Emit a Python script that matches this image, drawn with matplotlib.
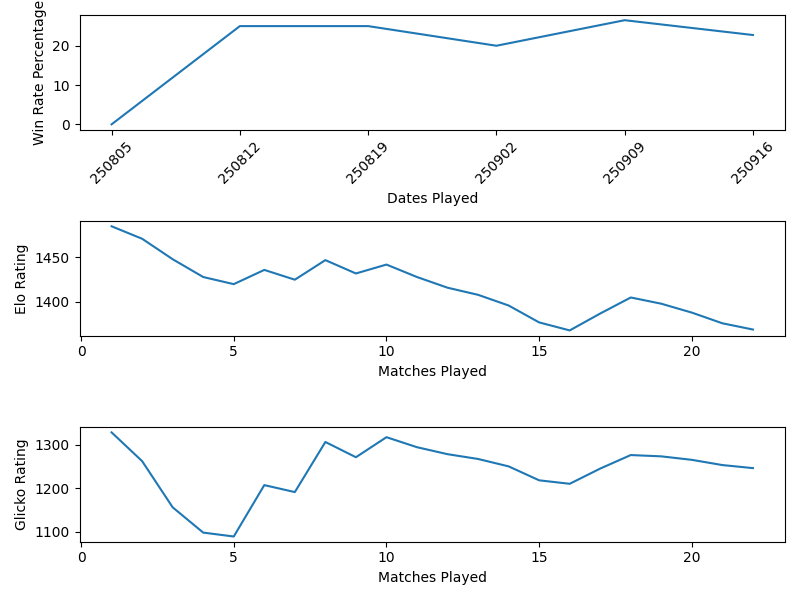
import matplotlib
matplotlib.use("Agg")
import matplotlib.pyplot as plt

dates = ["250805", "250812", "250819", "250902", "250909", "250916"]
win_rate = [0.0, 25.0, 25.0, 20.0, 26.5, 22.73]

matches = list(range(1, 23))
elo = [1485, 1471, 1448, 1428, 1420, 1436, 1425, 1447, 1432, 1442, 1428, 1416,
       1408, 1396, 1377, 1368, 1387, 1405, 1398, 1388, 1376, 1369]
glicko = [1328, 1262, 1156, 1098, 1089, 1207, 1191, 1306, 1271, 1317, 1294, 1278,
          1267, 1250, 1218, 1210, 1245, 1276, 1273, 1265, 1253, 1246]

fig, axes = plt.subplots(3, 1, figsize=(8, 6), dpi=100)
ax1, ax2, ax3 = axes
ax1.plot(dates, win_rate)
ax1.set_xlabel("Dates Played")
ax1.set_ylabel("Win Rate Percentage")
ax1.tick_params(axis="x", rotation=45)

ax2.plot(matches, elo)
ax2.set_xlabel("Matches Played")
ax2.set_ylabel("Elo Rating")

ax3.plot(matches, glicko)
ax3.set_xlabel("Matches Played")
ax3.set_ylabel("Glicko Rating")

fig.tight_layout()
fig.savefig("out.png")
